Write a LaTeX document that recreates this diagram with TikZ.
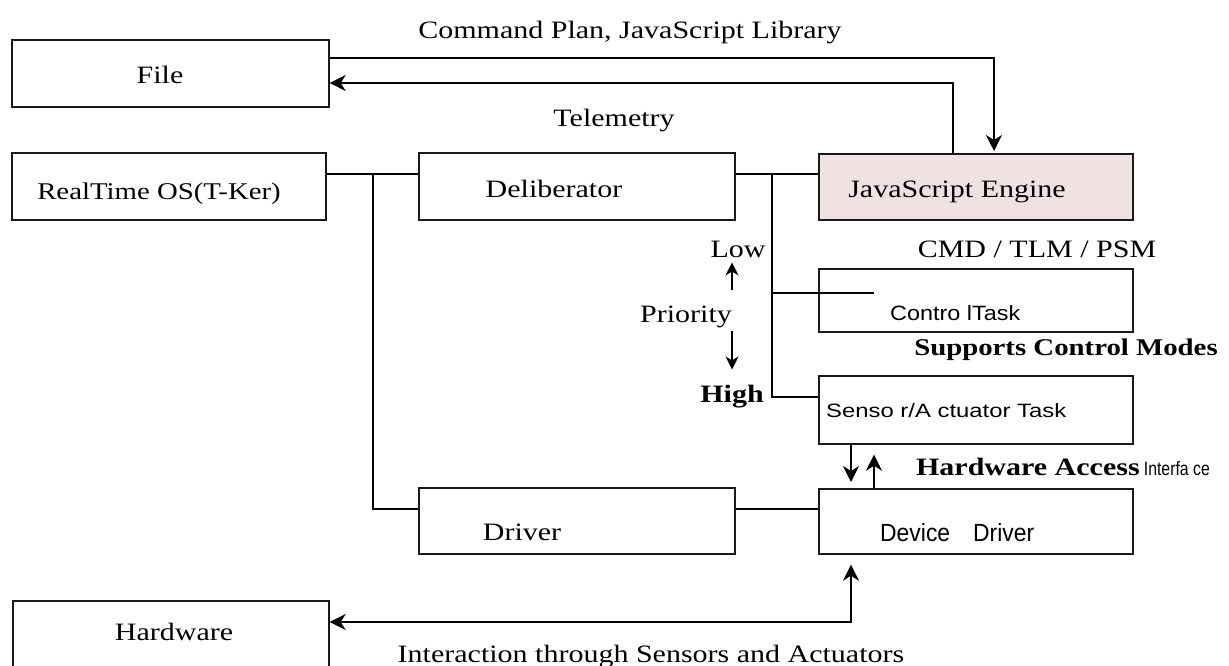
\documentclass[tikz,border=0pt]{standalone}
\usepackage{fontspec}
\setmainfont[FakeStretch=1.2]{Liberation Serif}
\newfontfamily\narrowsf{Liberation Sans}
\usetikzlibrary{arrows.meta}
\definecolor{jspink}{RGB}{240,225,227}
\newcommand{\fitw}[3]{\resizebox{#1}{#2}{\narrowsf #3}}
\begin{document}
\begin{tikzpicture}[x=1pt,y=-1pt,
  box/.style={draw=black!90, line width=1.7pt, rectangle, inner sep=0pt, anchor=north west},
  lbl/.style={inner sep=0pt, anchor=base},
  conn/.style={line width=1.7pt},
  tip/.tip={Stealth[length=16pt,width=16pt,inset=5pt]},
  arr/.style={conn, -tip},
  sarr/.style={line width=1.7pt, -{Stealth[length=13pt,width=13pt,inset=4pt]}},
  font=\fontsize{25pt}{30pt}\selectfont]
\clip (0,0) rectangle (1229,665);
\fill[white] (0,0) rectangle (1229,665);
% boxes
\node[box, minimum width=317pt, minimum height=67pt] (File) at (11,39) {};
\node[box, minimum width=314pt, minimum height=67pt] (RT) at (11,152) {};
\node[box, minimum width=316pt, minimum height=67pt] (Delib) at (418,152) {};
\node[box, fill=jspink, minimum width=314pt, minimum height=66pt] (JS) at (818,153) {};
\node[box, minimum width=314pt, minimum height=63pt] (CT) at (818,268) {};
\node[box, minimum width=314pt, minimum height=68pt] (SA) at (818,375) {};
\node[box, minimum width=316pt, minimum height=66pt] (Driver) at (418,487) {};
\node[box, minimum width=314pt, minimum height=65pt] (DD) at (818,488) {};
\node[box, minimum width=316pt, minimum height=72pt] (HW) at (12,600) {};
% texts
\node[lbl] (tFile) at (160,83) {File};
\node[lbl] (tCmd) at (630,38) {Command Plan, JavaScript Library};
\node[lbl] (tTel) at (614,126) {Telemetry};
\node[lbl, font=\fontsize{24pt}{28pt}\selectfont] (tRT) at (159,199) {RealTime OS(T-Ker)};
\node[lbl] (tDel) at (554,197) {Deliberator};
\node[lbl] (tJS) at (957,197) {JavaScript Engine};
\node[lbl] (Low) at (738,257) {Low};
\node[lbl] (Priority) at (686,322) {Priority};
\node[lbl, font=\bfseries\fontsize{25pt}{30pt}\selectfont] (High) at (732,402) {High};
\node[lbl] (tCMD) at (1037,257) {CMD / TLM / PSM};
\node[lbl, font=\bfseries\fontsize{24pt}{28pt}\selectfont] (tSup) at (1066,355) {Supports Control Modes};
\node[lbl] (tHAI) at (1063,475) {{\bfseries Hardware Access}\,\fitw{66pt}{14pt}{Interfa ce}};
\node[lbl] (tDrv) at (522,540) {Driver};
\node[lbl] (tHW) at (174,640) {Hardware};
\node[lbl] (tInt) at (651,662) {Interaction through Sensors and Actuators};
\node[lbl, anchor=base west] (tCT) at (890,320) {\fitw{130pt}{15pt}{Contro lTask}};
\node[lbl, anchor=base west] (tSA) at (826,417) {\fitw{240pt}{14pt}{Senso r/A ctuator Task}};
\node[lbl, anchor=base west] (tDD) at (880,541) {\fitw{154pt}{18pt}{Device\quad Driver}};
% coordinates
\coordinate (cmdTop) at (994,58);
\coordinate (telTop) at (953,83);
\coordinate (busL) at (373,174);
\coordinate (busR) at (772,174);
\coordinate (drvY) at (0,509);
\coordinate (ctEnd) at (874,293);
\coordinate (saY) at (0,397);
\coordinate (xDn) at (851,0);
\coordinate (xUp) at (874,0);
\coordinate (hwY) at (0,622);
% connectors
\draw[arr, shorten >=2pt] (File.east |- cmdTop) -| (JS.north -| cmdTop);
\draw[arr] (JS.north -| telTop) |- (File.east |- telTop);
\draw[conn] (RT.east |- busL) -- (Delib.west |- busL);
\draw[conn] (busL) |- (Driver.west |- drvY);
\draw[conn] (Delib.east |- busR) -- (JS.west |- busR);
\draw[conn] (busR) |- (SA.west |- saY);
\draw[conn] (busR |- ctEnd) -- (ctEnd);
\draw[conn] (Driver.east |- drvY) -- (DD.west |- drvY);
\draw[arr, shorten >=6pt] (SA.south -| xDn) -- (DD.north -| xDn);
\draw[arr, shorten >=10pt] (DD.north -| xUp) -- (SA.south -| xUp);
\draw[conn, tip-tip, shorten >=10pt] (HW.east |- hwY) -| (DD.south -| xDn);
\draw[sarr, shorten <=15pt, shorten >=5pt] (Priority.north east) -- (Priority.north east |- Low.south);
\draw[sarr, shorten <=3pt, shorten >=15pt] (Priority.south east) -- (Priority.south east |- High.north);
\end{tikzpicture}
\end{document}
